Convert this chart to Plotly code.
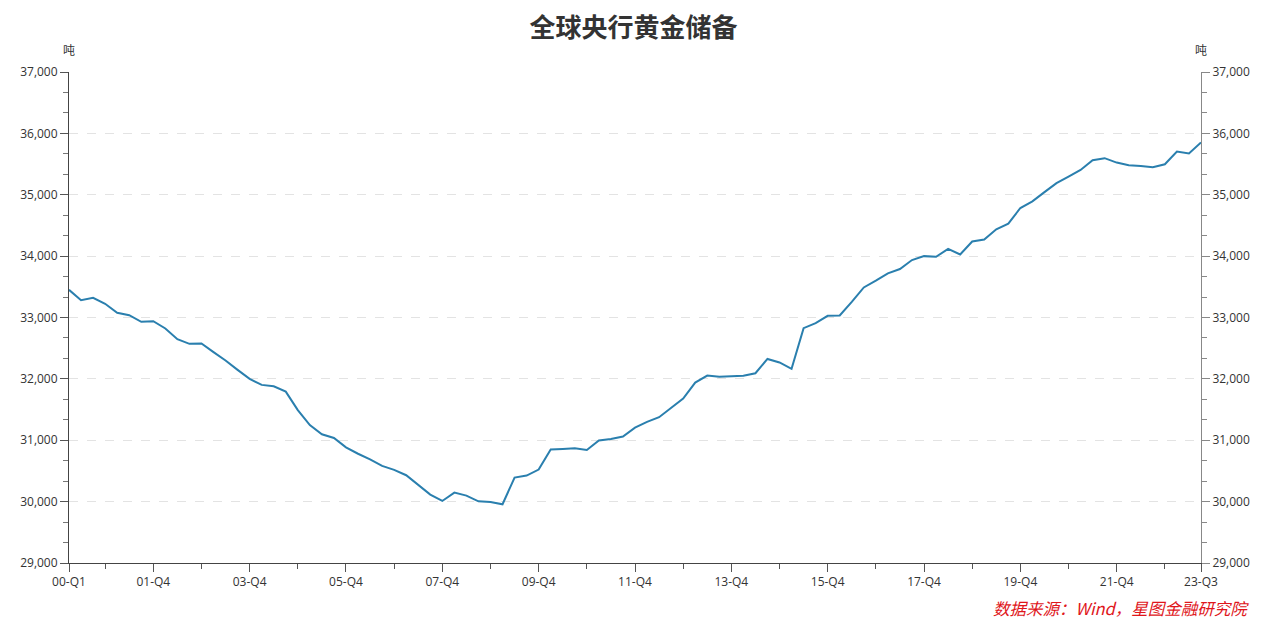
import plotly.graph_objects as go

# Quarter labels 2000-Q1 .. 2023-Q3
quarters = [f"{y % 100:02d}-Q{q}" for y in range(2000, 2024) for q in range(1, 5)][:95]

reserves = [
    33451, 33282, 33320, 33223, 33076, 33038, 32929, 32940, 32821, 32647,
    32571, 32576, 32435, 32300, 32147, 32000, 31902, 31880, 31793, 31492,
    31246, 31098, 31038, 30885, 30780, 30690, 30582, 30517, 30430, 30267,
    30114, 30011, 30147, 30098, 30005, 29995, 29957, 30391, 30424, 30522,
    30850, 30859, 30870, 30842, 30995, 31022, 31060, 31206, 31299, 31375,
    31522, 31679, 31940, 32054, 32033, 32038, 32052, 32092, 32325, 32267,
    32163, 32826, 32907, 33027, 33033, 33256, 33490, 33600, 33720, 33790,
    33936, 34000, 33989, 34119, 34027, 34238, 34270, 34438, 34530, 34784,
    34892, 35043, 35188, 35295, 35404, 35563, 35596, 35524, 35481, 35470,
    35448, 35497, 35705, 35672, 35853,
]

label_idx = [0, 7, 15, 23, 31, 39, 47, 55, 63, 71, 79, 87, 94]
minor_idx = [3, 11, 19, 27, 35, 43, 51, 59, 67, 75, 83, 91]

y_range = [29000, 37000]
y_ticks = list(range(29000, 37001, 1000))

title_text = "全球央行黄金储备"
unit_text = "吨"
source_text = "数据来源：Wind，星图金融研究院"

FONT = "Noto Sans CJK SC, sans-serif"
TICKFONT = "Open Sans, Noto Sans CJK SC, sans-serif"
xs = list(range(len(quarters)))

fig = go.Figure()
fig.add_trace(go.Scatter(
    x=xs, y=reserves, mode="lines",
    line=dict(color="#2a7fae", width=2),
    hoverinfo="y", showlegend=False,
))
# same series on the right axis (hidden) so the right axis renders
fig.add_trace(go.Scatter(
    x=xs, y=reserves, mode="lines", yaxis="y2",
    line=dict(color="rgba(0,0,0,0)", width=0),
    hoverinfo="skip", showlegend=False,
))

fig.update_layout(
    width=1267, height=629,
    margin=dict(l=58, r=74, t=64, b=74),
    paper_bgcolor="white", plot_bgcolor="white",
    font=dict(family=FONT, size=12, color="#333"),
    title=dict(text=f"<b>{title_text}</b>", x=0.4937, xanchor="center",
               y=0.968, yanchor="middle",
               font=dict(size=26, color="#333", family=FONT)),
    xaxis=dict(
        range=[0, 94], showgrid=False, zeroline=False,
        tickmode="array", tickvals=label_idx,
        ticktext=[quarters[i] for i in label_idx],
        ticks="outside", ticklen=8, tickcolor="#555", tickwidth=1,
        showline=True, linecolor="#444", linewidth=1,
        tickfont=dict(size=12, color="#333", family=TICKFONT),
        minor=dict(tickmode="array", tickvals=minor_idx, ticks="outside",
                   ticklen=5, tickcolor="#555", showgrid=False),
    ),
    yaxis=dict(
        range=y_range, tickmode="array", tickvals=y_ticks,
        tickformat=",d",
        showgrid=True, gridcolor="#e3e3e3", griddash="dash", gridwidth=1,
        zeroline=False,
        ticks="outside", ticklen=8, tickcolor="#555",
        showline=True, linecolor="#444", linewidth=1,
        tickfont=dict(size=12, color="#333", family=TICKFONT),
        minor=dict(dtick=1000 / 3, tick0=29000, ticks="outside",
                   ticklen=5, tickcolor="#777", showgrid=False),
    ),
    yaxis2=dict(
        range=y_range, overlaying="y", side="right",
        tickmode="array", tickvals=y_ticks, tickformat=",d",
        showgrid=False, zeroline=False,
        ticks="outside", ticklen=8, tickcolor="#888",
        showline=True, linecolor="#888", linewidth=1,
        tickfont=dict(size=12, color="#333", family=TICKFONT),
        minor=dict(dtick=1000 / 3, tick0=29000, ticks="outside",
                   ticklen=5, tickcolor="#888", showgrid=False),
    ),
    annotations=[
        dict(text=unit_text, xref="paper", yref="paper", x=0, y=1,
             xanchor="center", yanchor="bottom", yshift=12, showarrow=False,
             font=dict(size=12, color="#333")),
        dict(text=unit_text, xref="paper", yref="paper", x=1, y=1,
             xanchor="center", yanchor="bottom", yshift=12, showarrow=False,
             font=dict(size=12, color="#333")),
        dict(text=f"<i>{source_text}</i>", xref="paper", yref="paper",
             x=1, y=0, xanchor="right", yanchor="middle",
             xshift=50, yshift=-45, showarrow=False,
             font=dict(size=16.5, color="#e0161b")),
    ],
)

fig.write_html("out.html")
